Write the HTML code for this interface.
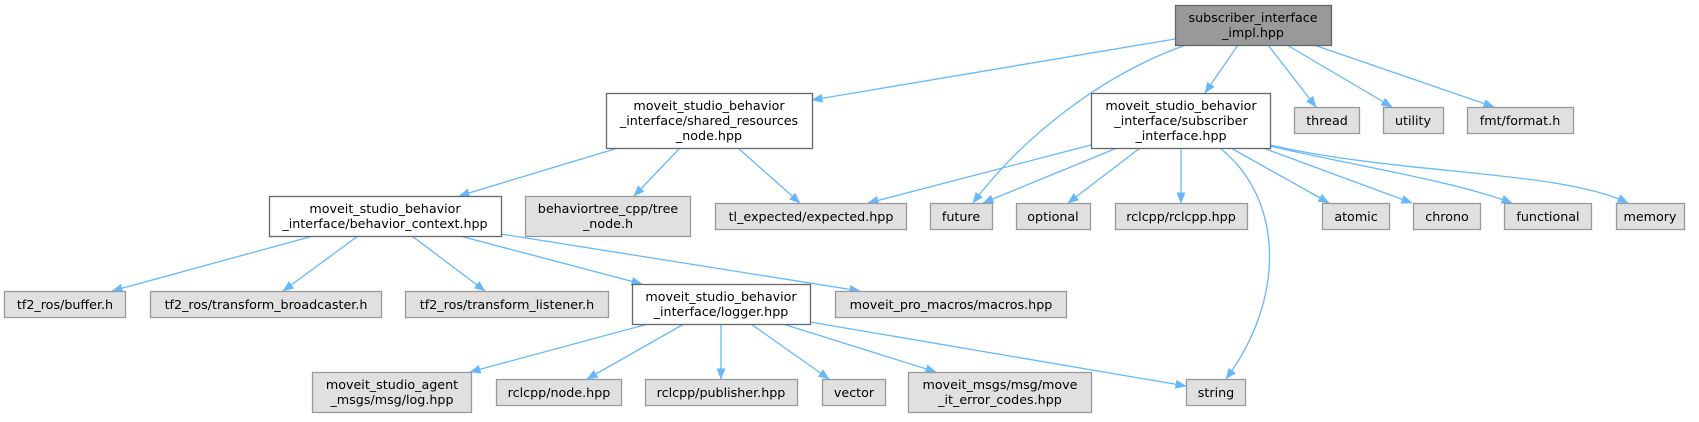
<!DOCTYPE html>
<html><head><meta charset="utf-8"><style>
html,body{margin:0;padding:0;background:#fff;}
svg text{font-family:"DejaVu Sans","Liberation Sans",sans-serif;font-size:12.7px;fill:#000;text-anchor:middle;}
.w{fill:#fff;stroke:#666;stroke-width:1.3}
.g{fill:#e0e0e0;stroke:#999;stroke-width:1.3}
.r{fill:#999;stroke:#666;stroke-width:1.3}
.e{fill:none;stroke:#63b8ff;stroke-width:1.3;marker-end:url(#a)}
</style></head><body>
<svg width="1699" height="417" viewBox="0 0 1699 417" xmlns="http://www.w3.org/2000/svg">
<defs><marker id="a" markerWidth="11" markerHeight="9" refX="10.5" refY="4.5" orient="auto" markerUnits="userSpaceOnUse"><path d="M0,0 L11,4.5 L0,9 z" fill="#63b8ff"/></marker></defs>
<path class="e" d="M1175,39 L812,100"/>
<path class="e" d="M1186,45 C1100,75 1020,140 973,203"/>
<path class="e" d="M1238,45 L1205,93"/>
<path class="e" d="M1268,45 L1316,107"/>
<path class="e" d="M1287,45 L1392,107"/>
<path class="e" d="M1314,45 L1494,107"/>
<path class="e" d="M618,148 L459,196"/>
<path class="e" d="M680,148 L634,196"/>
<path class="e" d="M738,148 L800,203"/>
<path class="e" d="M1091,145 L868,203"/>
<path class="e" d="M1117,148 L983,203"/>
<path class="e" d="M1140,148 L1068,203"/>
<path class="e" d="M1181,148 L1181,203"/>
<path class="e" d="M1220,148 C1285,200 1285,300 1226,379"/>
<path class="e" d="M1231,148 L1329,203"/>
<path class="e" d="M1263,148 L1412,203"/>
<path class="e" d="M1270,146 C1350,165 1450,180 1512,203"/>
<path class="e" d="M1270,145 C1400,175 1560,170 1628,203"/>
<path class="e" d="M313,236 L112,291"/>
<path class="e" d="M358,236 L283,291"/>
<path class="e" d="M412,236 L485,291"/>
<path class="e" d="M460,236 L642,284"/>
<path class="e" d="M501,234 L860,291"/>
<path class="e" d="M648,324 L470,372"/>
<path class="e" d="M684,324 L587,379"/>
<path class="e" d="M721,324 L721,379"/>
<path class="e" d="M751,324 L829,379"/>
<path class="e" d="M783,324 L936,372"/>
<path class="e" d="M810,322 L1186,386"/>
<rect class="r" x="1175.5" y="5.5" width="156" height="40"/>
<text x="1253" y="22">subscriber_interface</text><text x="1253" y="37">_impl.hpp</text>
<rect class="w" x="606.5" y="93.5" width="206" height="55"/>
<text x="709" y="110">moveit_studio_behavior</text><text x="709" y="125">_interface/shared_resources</text><text x="709" y="140">_node.hpp</text>
<rect class="w" x="1091.5" y="93.5" width="179" height="55"/>
<text x="1181" y="110">moveit_studio_behavior</text><text x="1181" y="125">_interface/subscriber</text><text x="1181" y="140">_interface.hpp</text>
<rect class="g" x="1294.5" y="107.5" width="65" height="26"/><text x="1327" y="125">thread</text>
<rect class="g" x="1383.5" y="107.5" width="60" height="26"/><text x="1413" y="125">utility</text>
<rect class="g" x="1467.5" y="107.5" width="106" height="26"/><text x="1520" y="125">fmt/format.h</text>
<rect class="w" x="269.5" y="196.5" width="232" height="40"/>
<text x="385" y="213">moveit_studio_behavior</text><text x="385" y="228">_interface/behavior_context.hpp</text>
<rect class="g" x="525.5" y="196.5" width="165" height="40"/>
<text x="608" y="213">behaviortree_cpp/tree</text><text x="608" y="228">_node.h</text>
<rect class="g" x="715.5" y="203.5" width="191" height="26"/><text x="811" y="221">tl_expected/expected.hpp</text>
<rect class="g" x="930.5" y="203.5" width="62" height="26"/><text x="961" y="221">future</text>
<rect class="g" x="1016.5" y="203.5" width="74" height="26"/><text x="1053" y="221">optional</text>
<rect class="g" x="1115.5" y="203.5" width="132" height="26"/><text x="1181" y="221">rclcpp/rclcpp.hpp</text>
<rect class="g" x="1322.5" y="203.5" width="67" height="26"/><text x="1356" y="221">atomic</text>
<rect class="g" x="1413.5" y="203.5" width="67" height="26"/><text x="1447" y="221">chrono</text>
<rect class="g" x="1504.5" y="203.5" width="87" height="26"/><text x="1548" y="221">functional</text>
<rect class="g" x="1616.5" y="203.5" width="68" height="26"/><text x="1650" y="221">memory</text>
<rect class="g" x="4.5" y="291.5" width="121" height="26"/><text x="65" y="309">tf2_ros/buffer.h</text>
<rect class="g" x="150.5" y="291.5" width="231" height="26"/><text x="266" y="309">tf2_ros/transform_broadcaster.h</text>
<rect class="g" x="405.5" y="291.5" width="203" height="26"/><text x="507" y="309">tf2_ros/transform_listener.h</text>
<rect class="w" x="632.5" y="284.5" width="178" height="40"/>
<text x="721" y="301">moveit_studio_behavior</text><text x="721" y="316">_interface/logger.hpp</text>
<rect class="g" x="835.5" y="291.5" width="231" height="26"/><text x="951" y="309">moveit_pro_macros/macros.hpp</text>
<rect class="g" x="312.5" y="372.5" width="159" height="40"/>
<text x="392" y="389">moveit_studio_agent</text><text x="392" y="404">_msgs/msg/log.hpp</text>
<rect class="g" x="496.5" y="379.5" width="125" height="26"/><text x="559" y="397">rclcpp/node.hpp</text>
<rect class="g" x="645.5" y="379.5" width="152" height="26"/><text x="721" y="397">rclcpp/publisher.hpp</text>
<rect class="g" x="822.5" y="379.5" width="63" height="26"/><text x="854" y="397">vector</text>
<rect class="g" x="908.5" y="372.5" width="183" height="40"/>
<text x="1000" y="389">moveit_msgs/msg/move</text><text x="1000" y="404">_it_error_codes.hpp</text>
<rect class="g" x="1186.5" y="379.5" width="59" height="26"/><text x="1216" y="397">string</text>
</svg>
</body></html>
